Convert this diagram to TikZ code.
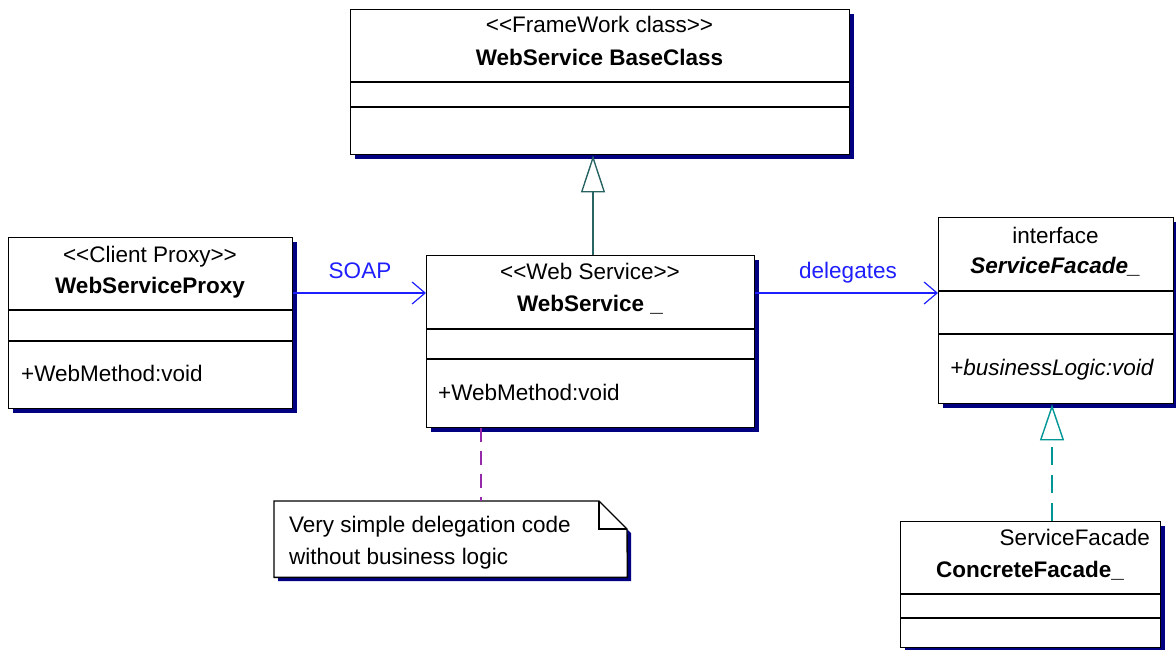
\documentclass[tikz,border=0pt]{standalone}
\usepackage{fontspec}
\setmainfont{Liberation Sans}
\usetikzlibrary{arrows.meta,shadows}
\definecolor{shadownavy}{RGB}{0,0,128}
\definecolor{assocblue}{RGB}{30,30,255}
\definecolor{gencol}{RGB}{40,100,100}
\definecolor{realcol}{RGB}{0,150,150}
\definecolor{notecol}{RGB}{150,40,170}
\begin{document}
\begin{tikzpicture}[x=1pt,y=-1pt,
  classbox/.style={draw=black, fill=white, line width=1.4pt, anchor=north west, inner sep=0pt,
    general shadow={fill=shadownavy, shadow xshift=4pt, shadow yshift=-4pt}},
  divider/.style={line width=1.4pt},
  txt/.style={inner sep=0pt, font=\fontsize{22.5}{26}\selectfont},
  stereo/.style={txt, anchor=base},
  ctitle/.style={inner sep=0pt, font=\fontsize{22.5}{26}\selectfont\bfseries, anchor=base},
  member/.style={txt, anchor=base west},
  assoc/.style={assocblue, line width=1.2pt, -{Straight Barb[length=13pt,width=22pt,line width=1.2pt]}},
  assoclabel/.style={txt, text=assocblue, anchor=base},
  genline/.style={gencol, line width=1.4pt, -{Triangle[length=37pt,width=24pt,fill=white]}},
  realline/.style={realcol, line width=1.4pt, dash pattern=on 18pt off 10pt, -{Triangle[length=36pt,width=24pt,fill=white]}},
  noteline/.style={notecol, line width=1.4pt, dash pattern=on 14pt off 9pt},
]
\useasboundingbox (0,0) rectangle (1176,649);

% WebService BaseClass
\node[classbox, minimum width=499pt, minimum height=145pt] (base) at (350,9) {};
\draw[divider] (350,82) -- (849,82);
\draw[divider] (350,107) -- (849,107);
\node[stereo] (baseS) at (599.5,32) {<{}<FrameWork class>{}>};
\node[ctitle] (baseT) at (599.5,65) {WebService BaseClass};

% WebServiceProxy
\node[classbox, minimum width=284pt, minimum height=171pt] (proxy) at (8,237) {};
\draw[divider] (8,310) -- (292,310);
\draw[divider] (8,341) -- (292,341);
\node[stereo] (proxyS) at (150,262) {<{}<Client Proxy>{}>};
\node[ctitle] (proxyT) at (150,293) {WebServiceProxy};
\node[member] (proxyM) at (21,381) {+WebMethod:void};

% WebService _
\node[classbox, minimum width=328pt, minimum height=172pt] (ws) at (426,255) {};
\draw[divider] (426,329) -- (754,329);
\draw[divider] (426,359) -- (754,359);
\node[stereo] (wsS) at (590,279) {<{}<Web Service>{}>};
\node[ctitle] (wsT) at (590,311) {WebService \_};
\node[member] (wsM) at (438,400) {+WebMethod:void};

% ServiceFacade_
\node[classbox, minimum width=235pt, minimum height=186pt] (facade) at (938,217) {};
\draw[divider] (938,291) -- (1173,291);
\draw[divider] (938,334) -- (1173,334);
\node[stereo] (facadeS) at (1055.5,243) {interface};
\node[ctitle, font=\fontsize{22.5}{26}\selectfont\bfseries\itshape] (facadeT) at (1055.5,273) {ServiceFacade\_};
\node[member, font=\fontsize{22.5}{26}\selectfont\itshape] (facadeM) at (950,375) {+businessLogic:void};

% ConcreteFacade_
\node[classbox, minimum width=260pt, minimum height=126pt] (conc) at (900,521) {};
\draw[divider] (900,594) -- (1160,594);
\draw[divider] (900,618) -- (1160,618);
\node[txt, anchor=base east] (concS) at (1150,545) {ServiceFacade};
\node[ctitle] (concT) at (1030,577) {ConcreteFacade\_};

% Note
\node[inner sep=0pt, minimum width=353pt, minimum height=76pt, anchor=north west] (note) at (274,501) {};
\fill[shadownavy] (278,505) -- (603,505) -- (631,533) -- (631,581) -- (278,581) -- cycle;
\draw[fill=white, line width=1.4pt] (note.north west) -- (599,501) -- (627,529) -- (note.south east) -- (note.south west) -- cycle;
\draw[line width=1.4pt] (599,501) -- (599,529) -- (627,529);
\node[member] (noteA) at (289,532) {Very simple delegation code};
\node[member] (noteB) at (289,564) {without business logic};

% Connectors
\draw[assoc] (proxy.east |- 0,293) -- (ws.west |- 0,293);
\node[assoclabel] (soap) at (360,278) {SOAP};
\draw[assoc] (ws.east |- 0,293) -- (facade.west |- 0,293);
\node[assoclabel] (deleg) at (848,278) {delegates};
\draw[genline] (ws.north -| 593,0) -- (base.south -| 593,0);
\draw[realline] (conc.north -| 1052,0) -- (facade.south -| 1052,0);
\draw[noteline] (ws.south -| 481,0) -- (note.north -| 481,0);
\end{tikzpicture}
\end{document}
